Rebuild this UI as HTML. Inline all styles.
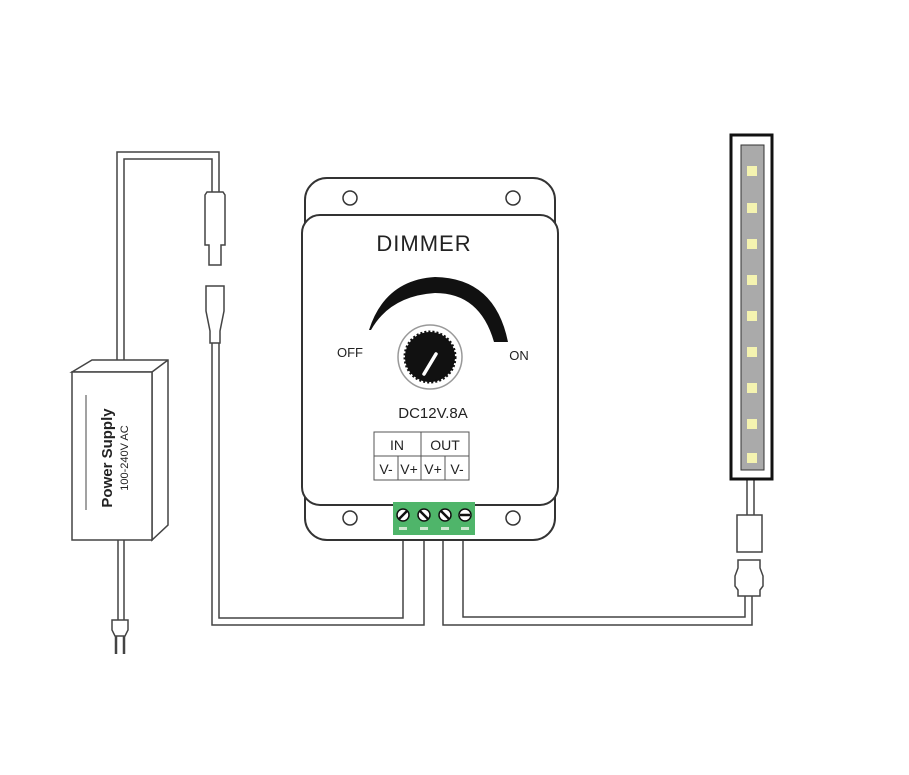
<!DOCTYPE html>
<html><head><style>body{margin:0;background:#fff}svg{display:block}</style></head><body>
<svg width="909" height="775" viewBox="0 0 909 775" xmlns="http://www.w3.org/2000/svg" font-family="Liberation Sans, sans-serif">
<g fill="none" stroke="#444" stroke-width="1.5">
<path d="M117 362 V152 H219 V195"/><path d="M124 362 V159 H212 V195"/>
<path d="M205 195 l2 -3 h16 l2 3 v50 h-4 v20 h-12 v-20 h-4 z" fill="#fff"/>
<path d="M206 286 h18 v25 l-4 20 v12 h-10 v-12 l-4 -20 z" fill="#fff"/>
<path d="M212 343 V625 H424 V535"/><path d="M219 343 V618 H403 V535"/>
<path d="M443 535 V625 H752 V595"/><path d="M463 535 V617 H745 V595"/>
<path d="M738 560 h22 v8 l3 8 v10 l-3 4 v6 h-22 v-6 l-3 -4 v-10 l3 -8 z" fill="#fff"/>
<path d="M737 515 h25 v37 h-25 z" fill="#fff"/>
<path d="M747 479 V515 M754 479 V515"/>
<path d="M72 372 L92 360 H168 V525 L152 540 V372 Z M152 372 L168 360" fill="#fff"/>
<rect x="72" y="372" width="80" height="168" fill="#fff"/>
<path d="M86 395 V510" stroke-width="1"/>
<path d="M118 540 V620 M124 540 V620"/>
<path d="M112 620 h16 v10 l-3 6 h-10 l-3 -6 z" fill="#fff"/>
<path d="M116 636 v18 M124 636 v18" stroke-width="2.5"/>
</g>
<text transform="translate(112,458) rotate(-90)" text-anchor="middle" font-size="15" font-weight="bold" fill="#222">Power Supply</text>
<text transform="translate(128,458) rotate(-90)" text-anchor="middle" font-size="11" fill="#222">100-240V AC</text>
<rect x="305" y="178" width="250" height="362" rx="22" fill="#fff" stroke="#333" stroke-width="2"/>
<rect x="302" y="215" width="256" height="290" rx="18" fill="#fff" stroke="#333" stroke-width="2"/>
<g fill="#fff" stroke="#333" stroke-width="1.5">
<circle cx="350" cy="198" r="7"/><circle cx="513" cy="198" r="7"/><circle cx="350" cy="518" r="7"/><circle cx="513" cy="518" r="7"/>
</g>
<text x="424" y="251" text-anchor="middle" font-size="22" fill="#222" letter-spacing="1">DIMMER</text>
<path d="M369 330 Q 385 280 435 277 Q 495 278 508 342 L494 342 Q 480 293 435 293 Q 390 296 371 330 Z" fill="#111"/>
<circle cx="430" cy="357" r="32" fill="#fff" stroke="#999" stroke-width="1.5"/>
<circle cx="430" cy="357" r="25" fill="#111" stroke="#111" stroke-width="3" stroke-dasharray="2 2"/>
<path d="M424 374 L436 354" stroke="#fff" stroke-width="3.5" stroke-linecap="round"/>
<text x="350" y="357" text-anchor="middle" font-size="13" fill="#222">OFF</text>
<text x="519" y="360" text-anchor="middle" font-size="13" fill="#222">ON</text>
<text x="433" y="418" text-anchor="middle" font-size="15" fill="#222">DC12V.8A</text>
<g fill="none" stroke="#555" stroke-width="1">
<rect x="374" y="432" width="95" height="48"/><path d="M374 456 H469 M421 432 V480 M398 456 V480 M445 456 V480"/>
</g>
<g font-size="14" fill="#222" text-anchor="middle">
<text x="397" y="450">IN</text><text x="445" y="450">OUT</text>
<text x="386" y="474">V-</text><text x="409" y="474">V+</text><text x="433" y="474">V+</text><text x="457" y="474">V-</text>
</g>
<rect x="393" y="502" width="82" height="33" fill="#4fb56a"/>
<g fill="#fff" stroke="#111" stroke-width="1.5">
<circle cx="403" cy="515" r="6"/><circle cx="424" cy="515" r="6"/><circle cx="445" cy="515" r="6"/><circle cx="465" cy="515" r="6"/>
</g>
<g stroke="#111" stroke-width="2.5"><path d="M399 519 L407 511 M420 511 L428 519 M441 511 L449 519 M460 515 H470"/></g>
<g fill="#cfe8d0"><rect x="399" y="527" width="8" height="3"/><rect x="420" y="527" width="8" height="3"/><rect x="441" y="527" width="8" height="3"/><rect x="461" y="527" width="8" height="3"/></g>
<rect x="731" y="135" width="41" height="344" fill="#fff" stroke="#111" stroke-width="3"/>
<rect x="741" y="145" width="23" height="325" fill="#aaa" stroke="#333" stroke-width="1"/>
<g fill="#f4f3b0">
<rect x="747" y="166" width="10" height="10"/><rect x="747" y="203" width="10" height="10"/><rect x="747" y="239" width="10" height="10"/><rect x="747" y="275" width="10" height="10"/><rect x="747" y="311" width="10" height="10"/><rect x="747" y="347" width="10" height="10"/><rect x="747" y="383" width="10" height="10"/><rect x="747" y="419" width="10" height="10"/><rect x="747" y="453" width="10" height="10"/>
</g>
</svg>
</body></html>
